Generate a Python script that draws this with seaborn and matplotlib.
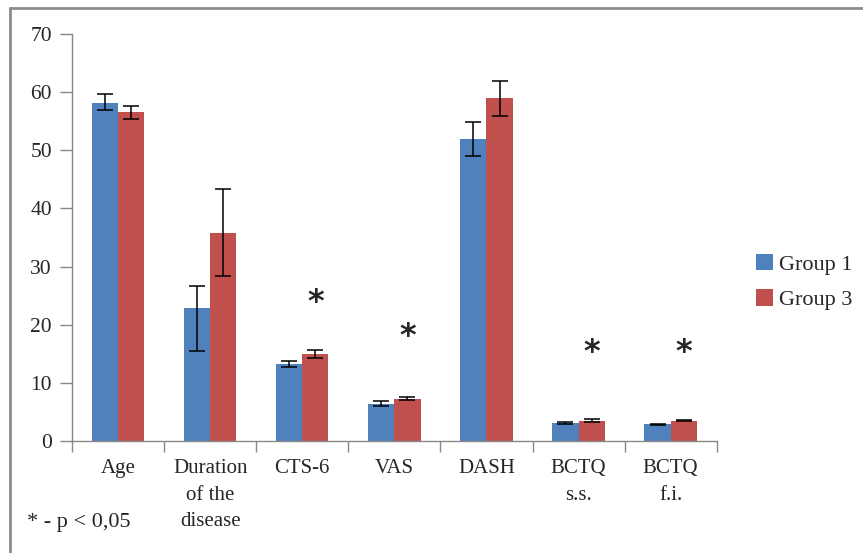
import matplotlib
matplotlib.use("Agg")
import matplotlib.pyplot as plt
from matplotlib.lines import Line2D
import seaborn as sns
import pandas as pd
import numpy as np

sns.set_theme(style="white")
plt.rcParams['font.family'] = ['Liberation Serif', 'DejaVu Serif']

# DATA
categories = ['Age', 'Duration\nof the\ndisease', 'CTS-6', 'VAS', 'DASH', 'BCTQ\ns.s.', 'BCTQ\nf.i.']
groups = ['Group 1', 'Group 3']
group1 = [58.2, 22.9, 13.3, 6.3, 51.9, 3.1, 2.9]
group3 = [56.6, 35.8, 14.9, 7.3, 59.0, 3.5, 3.5]
group1_err_low = [1.3, 7.4, 0.5, 0.35, 2.9, 0.1, 0.1]
group1_err_high = [1.5, 3.8, 0.4, 0.5, 2.9, 0.1, 0.1]
group3_err_low = [1.2, 7.5, 0.6, 0.3, 3.1, 0.3, 0.1]
group3_err_high = [1.1, 7.6, 0.7, 0.3, 2.9, 0.3, 0.1]
signif = [False, False, True, True, False, True, True]
star_y = [0, 0, 23.9, 17.9, 0, 15.3, 15.3]
colors = ['#4F81BD', '#C0504D']

df = pd.DataFrame({
    'Category': categories * 2,
    'Value': group1 + group3,
    'Group': [groups[0]] * len(categories) + [groups[1]] * len(categories),
})

fig = plt.figure(figsize=(8.63, 5.53), dpi=100)
ax = fig.add_axes([72 / 863, 1 - 441 / 553, (716.7 - 72) / 863, 407 / 553])

sns.barplot(data=df, x='Category', y='Value', hue='Group', palette=colors,
            width=0.57, errorbar=None, ax=ax, saturation=1, edgecolor='none')

errs = [(group1_err_low, group1_err_high), (group3_err_low, group3_err_high)]
for cont, (lo, hi) in zip(ax.containers, errs):
    xs = [b.get_x() + b.get_width() / 2 for b in cont]
    hs = [b.get_height() for b in cont]
    ax.errorbar(xs, hs, yerr=[lo, hi], fmt='none', ecolor='black',
                elinewidth=1.1, capsize=5.5, capthick=1.1)

# significance stars above group 3
for b, s, y in zip(ax.containers[1], signif, star_y):
    if s:
        ax.text(b.get_x() + b.get_width() / 2, y, '*', ha='center', va='center',
                fontsize=23, fontweight='bold', family=['DejaVu Sans'])

ax.set_ylim(0, 70)
ax.set_xlim(-0.5, len(categories) - 0.5)
ax.set_yticks(np.arange(0, 71, 10))
ax.tick_params(axis='y', which='major', direction='out', length=9, width=1,
               color='#888888', labelsize=15.5, pad=5.5, left=True)

ax.set_xticks(np.arange(-0.5, len(categories), 1))
ax.set_xticklabels([])
ax.tick_params(axis='x', which='major', direction='out', length=8, width=1,
               color='#888888', bottom=True)
ax.set_xticks(np.arange(len(categories)), minor=True)
ax.set_xticklabels(categories, minor=True, fontsize=15, linespacing=1.55)
ax.tick_params(axis='x', which='minor', length=0, pad=13)

for side in ['top', 'right']:
    ax.spines[side].set_visible(False)
for side in ['left', 'bottom']:
    ax.spines[side].set_color('#888888')
    ax.spines[side].set_linewidth(1)

ax.set_xlabel('')
ax.set_ylabel('')
ax.grid(False)

leg = ax.legend(loc='center left', bbox_to_anchor=(1.03, 0.39), frameon=False,
                fontsize=16, handlelength=0.75, handleheight=0.75,
                handletextpad=0.3, labelspacing=0.65)

fig.text(27 / 863, 1 - 523 / 553, '* - p < 0,05', fontsize=16, va='center', ha='left')

# outer frame (left and top edges)
fig.add_artist(Line2D([10 / 863, 10 / 863], [0, 1 - 7.5 / 553], color='#8c8c8c', lw=2,
                      transform=fig.transFigure))
fig.add_artist(Line2D([10 / 863, 1], [1 - 7.5 / 553, 1 - 7.5 / 553], color='#8c8c8c', lw=2,
                      transform=fig.transFigure))

fig.savefig('out.png', dpi=100, facecolor='white')
